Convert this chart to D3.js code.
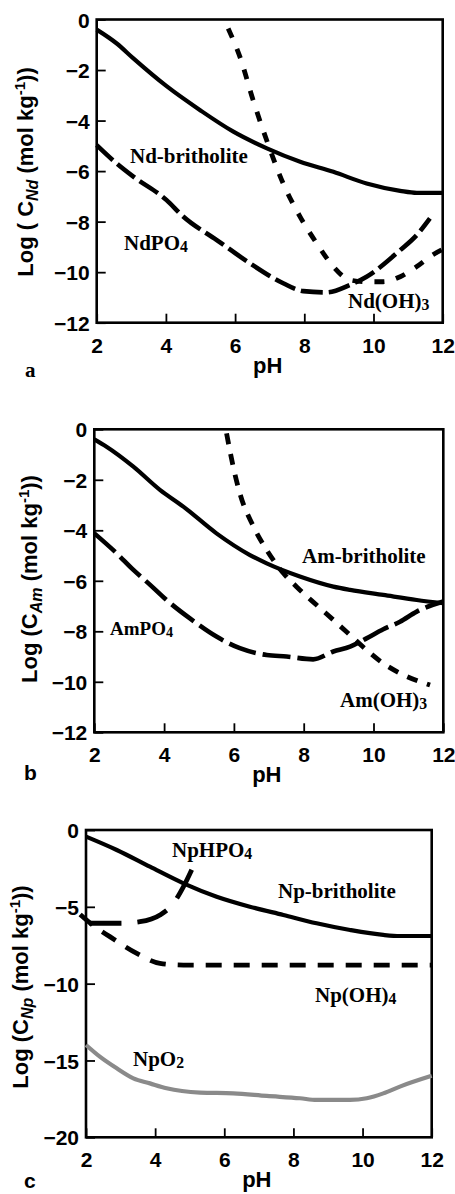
<!DOCTYPE html>
<html>
<head>
<meta charset="utf-8">
<script src="https://cdn.jsdelivr.net/npm/d3@7"></script>
<style>
  html, body { margin: 0; padding: 0; background: #fff; }
  svg { display: block; }
</style>
</head>
<body>
<svg id="chart" width="455" height="1194"></svg>
<script>
// ---------------- DATA ----------------
const xTicks = [2, 4, 6, 8, 10, 12];
const yTicksA = [0, -2, -4, -6, -8, -10, -12];
const yTicksB = [0, -2, -4, -6, -8, -10, -12];
const yTicksC = [0, -5, -10, -15, -20];

// Panel a (Nd)
const ndBritholite = [[2,-0.4],[2.58,-0.95],[3.06,-1.54],[4.02,-2.64],[4.99,-3.59],[5.95,-4.44],[6.92,-5.10],[7.88,-5.63],[8.84,-6.03],[9.8,-6.49],[10.77,-6.78],[11.25,-6.86],[12,-6.86]];
const ndPO4 = [[2,-4.97],[2.58,-5.7],[3.06,-6.22],[4.02,-7.15],[4.5,-7.8],[5.47,-8.73],[6.43,-9.65],[7.39,-10.44],[7.97,-10.75],[8.64,-10.8],[9.31,-10.51],[9.8,-10.18],[10.77,-9.13],[11.25,-8.53],[11.63,-7.87]];
const ndOH3 = [[5.8,-0.36],[6.14,-1.48],[6.52,-3.19],[6.91,-4.77],[7.39,-6.49],[7.88,-7.81],[8.36,-8.86],[8.84,-9.78],[9.32,-10.31],[9.8,-10.38],[10.28,-10.38],[10.77,-10.18],[11.25,-9.78],[11.73,-9.3],[12,-9.1]];

// Panel b (Am)
const amBritholite = [[2,-0.4],[2.35,-0.69],[3.12,-1.48],[3.88,-2.4],[4.55,-3.06],[5.5,-4.12],[6.46,-4.98],[6.94,-5.31],[7.89,-5.83],[8.85,-6.23],[9.33,-6.36],[10.28,-6.56],[11.24,-6.76],[12,-6.89]];
const amPO4 = [[2,-4.12],[2.64,-4.91],[3.12,-5.57],[3.6,-6.16],[4.07,-6.76],[4.74,-7.49],[5.5,-8.21],[6.17,-8.67],[6.94,-8.94],[7.51,-9.0],[8.27,-9.11],[8.85,-8.8],[9.33,-8.61],[9.8,-8.28],[10.28,-7.92],[10.76,-7.62],[11.24,-7.22],[12,-6.82]];
const amOH3 = [[5.79,-0.16],[5.98,-1.48],[6.17,-2.53],[6.56,-3.85],[6.94,-4.78],[7.42,-5.7],[7.89,-6.36],[8.37,-6.96],[8.85,-7.55],[9.33,-8.15],[9.8,-8.74],[10.28,-9.27],[10.76,-9.66],[11.62,-10.13]];

// Panel c (Np)
const npBritholite = [[2,-0.43],[2.89,-1.3],[3.85,-2.39],[4.82,-3.47],[5.78,-4.34],[6.74,-4.99],[7.71,-5.53],[8.67,-6.07],[9.64,-6.51],[10.6,-6.83],[11.08,-6.9],[12,-6.9]];
const npHPO4 = [[2.1,-6.07],[2.6,-6.07],[3.0,-6.07],[3.56,-5.97],[4.14,-5.53],[4.53,-4.77],[4.82,-3.69],[5.1,-2.39]];
const npOH4 = [[1.83,-5.5],[2.2,-6.2],[2.69,-6.94],[3.47,-8.03],[4.14,-8.68],[4.82,-8.79],[6,-8.79],[8,-8.79],[10,-8.79],[12,-8.79]];
const npO2 = [[2,-13.99],[2.4,-14.75],[2.89,-15.51],[3.37,-16.16],[3.85,-16.49],[4.33,-16.81],[5.3,-17.09],[6.26,-17.14],[7.23,-17.31],[8.19,-17.46],[8.67,-17.57],[9.64,-17.57],[10.12,-17.46],[10.6,-17.14],[11.08,-16.7],[12,-16.0]];

// ---------------- DRAW ----------------
const svg = d3.select("#chart");

const panels = [
  {
    px: [96.7, 442.7], py: [322.7, 19.5], yDomain: [-12, 0], yTicks: yTicksA,
    letter: "a", letterFont: "'Liberation Serif', 'Times New Roman', serif", letterPos: [25, 377],
    yLabel: { x: 33, y: 172, el: "Nd" },
    series: [
      { data: ndBritholite, dash: null, width: 4.2, color: "#000" },
      { data: ndPO4, dash: "22,6", width: 4.6, color: "#000" },
      { data: ndOH3, dash: "10,12", width: 4.8, color: "#000" }
    ],
    labels: [
      { text: "Nd-britholite", x: 130, y: 163 },
      { text: "NdPO", sub: "4", x: 124, y: 250 },
      { text: "Nd(OH)", sub: "3", x: 348, y: 308 }
    ]
  },
  {
    px: [94.3, 443.3], py: [732.3, 429.3], yDomain: [-12, 0], yTicks: yTicksB,
    letter: "b", letterFont: "'Liberation Sans', Arial, sans-serif", letterPos: [24, 780],
    yLabel: { x: 37, y: 579, el: "Am" },
    series: [
      { data: amBritholite, dash: null, width: 4.2, color: "#000" },
      { data: amPO4, dash: "28,7", width: 4.6, color: "#000" },
      { data: amOH3, dash: "11,10", width: 4.8, color: "#000" }
    ],
    labels: [
      { text: "Am-britholite", x: 302, y: 563 },
      { text: "AmPO", sub: "4", x: 110, y: 635, size: 19 },
      { text: "Am(OH)", sub: "3", x: 340, y: 707 }
    ]
  },
  {
    px: [86, 431.7], py: [1137.3, 830], yDomain: [-20, 0], yTicks: yTicksC,
    letter: "c", letterFont: "'Liberation Sans', Arial, sans-serif", letterPos: [24, 1188],
    yLabel: { x: 28, y: 987, el: "Np" },
    series: [
      { data: npO2, dash: null, width: 4.2, color: "#8a8a8a" },
      { data: npBritholite, dash: null, width: 4.2, color: "#000" },
      { data: npOH4, dash: "16,12", width: 4.8, color: "#000" },
      { data: npHPO4, dash: "32,16", width: 4.8, color: "#000" }
    ],
    labels: [
      { text: "NpHPO", sub: "4", x: 172, y: 857 },
      { text: "Np-britholite", x: 278, y: 898 },
      { text: "Np(OH)", sub: "4", x: 315, y: 1002 },
      { text: "NpO", sub: "2", x: 133, y: 1066 }
    ]
  }
];

const sans = "'Liberation Sans', Arial, Helvetica, sans-serif";
const serif = "'Liberation Serif', 'Times New Roman', Times, serif";

panels.forEach(p => {
  const x = d3.scaleLinear().domain([2, 12]).range(p.px);
  const y = d3.scaleLinear().domain(p.yDomain).range(p.py);
  const g = svg.append("g");

  // frame
  g.append("rect")
    .attr("x", p.px[0]).attr("y", p.py[1])
    .attr("width", p.px[1] - p.px[0]).attr("height", p.py[0] - p.py[1])
    .attr("fill", "none").attr("stroke", "#000").attr("stroke-width", 2.6);

  // x axis (ticks inward)
  const xAxis = d3.axisBottom(x).tickValues(xTicks).tickSize(-9).tickPadding(30).tickFormat(d3.format("d"));
  const gx = g.append("g").attr("transform", `translate(0,${p.py[0]})`).call(xAxis);
  gx.select(".domain").remove();
  gx.selectAll(".tick line").attr("stroke", "#000").attr("stroke-width", 1.8);
  gx.selectAll(".tick text")
    .attr("font-family", sans).attr("font-weight", "bold").attr("font-size", 21)
    .attr("fill", "#000").attr("dy", "0");

  // y axis (ticks inward)
  const yAxis = d3.axisLeft(y).tickValues(p.yTicks).tickSize(-9).tickPadding(7).tickFormat(d3.format("d"));
  const gy = g.append("g").attr("transform", `translate(${p.px[0]},0)`).call(yAxis);
  gy.select(".domain").remove();
  gy.selectAll(".tick line").attr("stroke", "#000").attr("stroke-width", 1.8);
  gy.selectAll(".tick text")
    .attr("font-family", sans).attr("font-weight", "bold").attr("font-size", 21)
    .attr("fill", "#000").attr("dy", "0.36em");

  // x label
  g.append("text")
    .attr("x", (p.px[0] + p.px[1]) / 2 - 2).attr("y", p.py[0] + 50)
    .attr("text-anchor", "middle")
    .attr("font-family", sans).attr("font-weight", "bold").attr("font-size", 22)
    .text("pH");

  // y label
  const yl = g.append("text")
    .attr("transform", `translate(${p.yLabel.x},${p.yLabel.y}) rotate(-90)`)
    .attr("text-anchor", "middle")
    .attr("font-family", sans).attr("font-weight", "bold").attr("font-size", 22);
  yl.append("tspan").text(p.letter === "a" ? "Log ( C" : "Log (C");
  yl.append("tspan").attr("font-size", 16).attr("font-style", "italic").attr("dy", 5).text(p.yLabel.el);
  yl.append("tspan").attr("dy", -5).text(p.letter === "a" ? " (mol kg" : "  (mol kg");
  yl.append("tspan").attr("font-size", 15).attr("dy", -8).text("-1");
  yl.append("tspan").attr("dy", 8).text("))");

  // panel letter
  g.append("text")
    .attr("x", p.letterPos[0]).attr("y", p.letterPos[1])
    .attr("font-family", p.letterFont).attr("font-weight", "bold").attr("font-size", 21)
    .text(p.letter);

  // series
  const line = d3.line().x(d => x(d[0])).y(d => y(d[1])).curve(d3.curveMonotoneX);
  p.series.forEach(s => {
    g.append("path")
      .attr("d", line(s.data))
      .attr("fill", "none")
      .attr("stroke", s.color)
      .attr("stroke-width", s.width)
      .attr("stroke-dasharray", s.dash)
      .attr("stroke-linejoin", "round");
  });

  // series labels
  p.labels.forEach(l => {
    const t = g.append("text")
      .attr("x", l.x).attr("y", l.y)
      .attr("font-family", serif).attr("font-weight", "bold").attr("font-size", l.size || 21);
    t.append("tspan").text(l.text);
    if (l.sub) t.append("tspan").attr("font-size", (l.size || 21) * 0.75).attr("dy", 2).text(l.sub);
  });
});
</script>
</body>
</html>
